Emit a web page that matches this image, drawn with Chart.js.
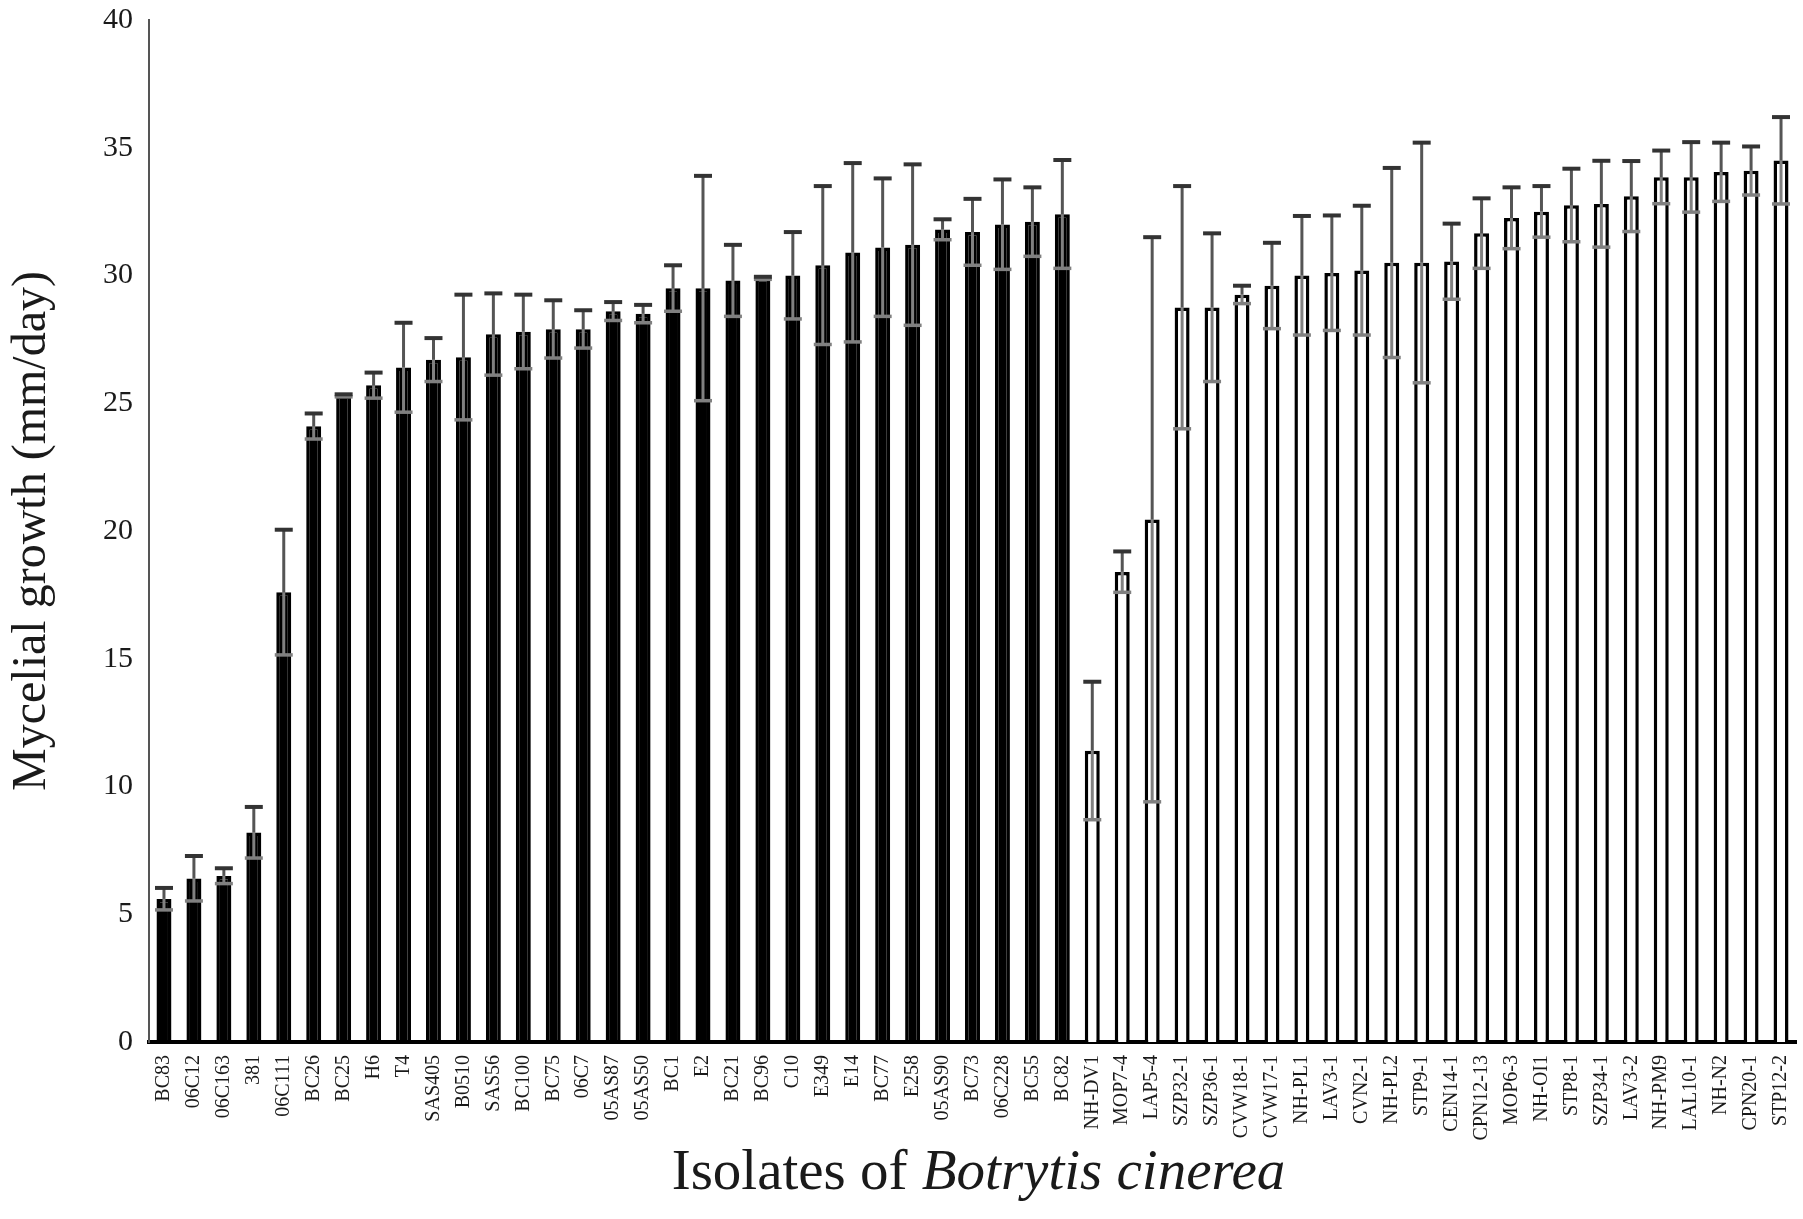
<!DOCTYPE html>
<html>
<head>
<meta charset="utf-8">
<script src="https://cdn.jsdelivr.net/npm/chart.js@4/dist/chart.umd.min.js"></script>
<style>
html,body{margin:0;padding:0;background:#fff;}
#wrap{width:1803px;height:1219px;position:relative;}
</style>
</head>
<body>
<div id="wrap"><canvas id="c" width="1803" height="1219"></canvas></div>
<script>
// Group 1 isolates (filled bars)
const namesA = ['BC83','06C12','06C163','381','06C111','BC26','BC25','H6','T4','SAS405','B0510','SAS56','BC100','BC75','06C7','05AS87','05AS50','BC1','E2','BC21','BC96','C10','E349','E14','BC77','E258','05AS90','BC73','06C228','BC55','BC82'];
const meansA = [5.6, 6.4, 6.5, 8.2, 17.6, 24.1, 25.3, 25.7, 26.4, 26.7, 26.8, 27.7, 27.8, 27.9, 27.9, 28.6, 28.5, 29.5, 29.5, 29.8, 29.9, 30.0, 30.4, 30.9, 31.1, 31.2, 31.8, 31.7, 32.0, 32.1, 32.4];
const errA   = [0.43, 0.88, 0.3, 1.0, 2.45, 0.5, 0.05, 0.5, 1.75, 0.85, 2.45, 1.6, 1.45, 1.13, 0.74, 0.36, 0.35, 0.9, 4.4, 1.4, 0.05, 1.7, 3.1, 3.5, 2.7, 3.15, 0.4, 1.3, 1.76, 1.35, 2.12];

// Group 2 isolates (hollow bars)
const namesB = ['NH-DV1','MOP7-4','LAP5-4','SZP32-1','SZP36-1','CVW18-1','CVW17-1','NH-PL1','LAV3-1','CVN2-1','NH-PL2','STP9-1','CEN14-1','CPN12-13','MOP6-3','NH-OI1','STP8-1','SZP34-1','LAV3-2','NH-PM9','LAL10-1','NH-N2','CPN20-1','STP12-2'];
const meansB = [11.4, 18.4, 20.45, 28.75, 28.75, 29.25, 29.6, 30.0, 30.1, 30.2, 30.5, 30.5, 30.55, 31.65, 32.25, 32.5, 32.75, 32.8, 33.1, 33.85, 33.85, 34.05, 34.1, 34.5];
const errB   = [2.7, 0.8, 11.05, 4.75, 2.9, 0.35, 1.68, 2.33, 2.25, 2.53, 3.71, 4.7, 1.48, 1.37, 1.2, 1.0, 1.43, 1.69, 1.38, 1.04, 1.37, 1.15, 0.95, 1.7];

const yTicks = [0, 5, 10, 15, 20, 25, 30, 35, 40];
const yTitle = 'Mycelial growth (mm/day)';
const xTitlePlain = 'Isolates of ';
const xTitleItalic = 'Botrytis cinerea';

const labels = namesA.concat(namesB);
const values = meansA.concat(meansB);
const errs = errA.concat(errB);
const fills = namesA.map(() => '#000000').concat(namesB.map(() => '#ffffff'));

const SERIF = '"Liberation Serif", "DejaVu Serif", serif';

const errorBars = {
  id: 'errorBars',
  afterDatasetsDraw(chart) {
    const ctx = chart.ctx;
    const meta = chart.getDatasetMeta(0);
    const y = chart.scales.y;
    ctx.save();
    meta.data.forEach((bar, i) => {
      const v = values[i], e = errs[i];
      const x = bar.x;
      const yTop = y.getPixelForValue(v + e);
      const yBar = y.getPixelForValue(v);
      const yLow = y.getPixelForValue(v - e);
      const cap = 9;
      ctx.strokeStyle = '#808080';
      ctx.lineWidth = 3;
      ctx.beginPath(); ctx.moveTo(x, yBar); ctx.lineTo(x, yLow); ctx.stroke();
      ctx.lineWidth = 3.5;
      ctx.beginPath(); ctx.moveTo(x - cap, yLow); ctx.lineTo(x + cap, yLow); ctx.stroke();
      ctx.strokeStyle = '#555555';
      ctx.lineWidth = 3;
      ctx.beginPath(); ctx.moveTo(x, yTop); ctx.lineTo(x, yBar); ctx.stroke();
      ctx.strokeStyle = '#333333';
      ctx.lineWidth = 4;
      ctx.beginPath(); ctx.moveTo(x - cap, yTop); ctx.lineTo(x + cap, yTop); ctx.stroke();
    });
    ctx.restore();
  }
};

const xTitlePlugin = {
  id: 'xTitle',
  afterDraw(chart) {
    const ctx = chart.ctx;
    const ca = chart.chartArea;
    ctx.save();
    ctx.fillStyle = '#1a1a1a';
    ctx.textBaseline = 'middle';
    const fPlain = '57px ' + SERIF;
    const fItal = 'italic 57px ' + SERIF;
    ctx.font = fPlain;
    const w1 = ctx.measureText(xTitlePlain).width;
    ctx.font = fItal;
    const w2 = ctx.measureText(xTitleItalic).width;
    const cx = (ca.left + ca.right) / 2 + 6;
    const x0 = cx - (w1 + w2) / 2;
    const yy = 1174;
    ctx.textAlign = 'left';
    ctx.font = fPlain;
    ctx.fillText(xTitlePlain, x0, yy);
    ctx.font = fItal;
    ctx.fillText(xTitleItalic, x0 + w1, yy);
    ctx.restore();
  }
};

new Chart(document.getElementById('c'), {
  type: 'bar',
  data: {
    labels: labels,
    datasets: [{
      data: values,
      backgroundColor: fills,
      borderColor: '#000000',
      borderWidth: 3.5,
      borderSkipped: 'bottom',
      barPercentage: 1.0,
      categoryPercentage: 0.5
    }]
  },
  options: {
    responsive: false,
    animation: false,
    devicePixelRatio: 1,
    layout: { padding: { left: 0, right: 7, top: 20, bottom: 0 } },
    plugins: { legend: { display: false }, tooltip: { enabled: false } },
    scales: {
      x: {
        grid: { display: false, drawTicks: false },
        border: { display: true, color: '#000000', width: 4 },
        ticks: {
          autoSkip: false,
          maxRotation: 90,
          minRotation: 90,
          padding: 13,
          color: '#1a1a1a',
          font: { family: SERIF, size: 20 }
        },
        afterFit(s) { s.height = 177; s.paddingLeft = 0; s.paddingRight = 0; }
      },
      y: {
        min: 0,
        max: 40,
        afterBuildTicks(s) { s.ticks = yTicks.map(v => ({ value: v })); },
        grid: { display: false, drawTicks: false },
        border: { display: true, color: '#555555', width: 2 },
        ticks: {
          padding: 16,
          color: '#1a1a1a',
          font: { family: SERIF, size: 30 }
        },
        title: {
          display: true,
          text: yTitle,
          color: '#1a1a1a',
          font: { family: SERIF, size: 48 },
          padding: { top: 4, bottom: 0 }
        },
        afterFit(s) { s.width = 149; s.paddingTop = 0; s.paddingBottom = 0; }
      }
    }
  },
  plugins: [errorBars, xTitlePlugin]
});
</script>
</body>
</html>
